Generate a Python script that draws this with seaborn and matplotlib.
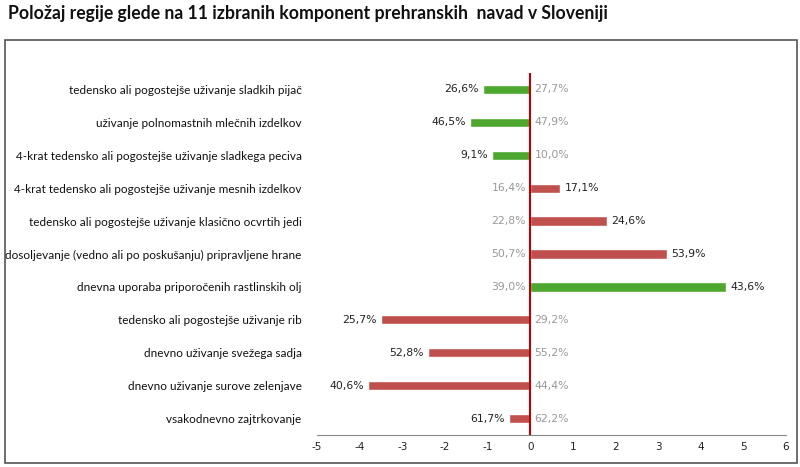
import matplotlib
matplotlib.use("Agg")
import matplotlib.pyplot as plt
import matplotlib.patches as mpatches
import seaborn as sns
import pandas as pd

categories = [
    "tedensko ali pogostejše uživanje sladkih pijač",
    "uživanje polnomastnih mlečnih izdelkov",
    "4-krat tedensko ali pogostejše uživanje sladkega peciva",
    "4-krat tedensko ali pogostejše uživanje mesnih izdelkov",
    "tedensko ali pogostejše uživanje klasično ocvrtih jedi",
    "dosoljevanje (vedno ali po poskušanju) pripravljene hrane",
    "dnevna uporaba priporočenih rastlinskih olj",
    "tedensko ali pogostejše uživanje rib",
    "dnevno uživanje svežega sadja",
    "dnevno uživanje surove zelenjave",
    "vsakodnevno zajtrkovanje",
]
region = [26.6, 46.5, 9.1, 17.1, 24.6, 53.9, 43.6, 25.7, 52.8, 40.6, 61.7]
slovenia = [27.7, 47.9, 10.0, 16.4, 22.8, 50.7, 39.0, 29.2, 55.2, 44.4, 62.2]
favourable = [True, True, True, False, False, False, True, False, False, False, False]
x_ticks = [-5, -4, -3, -2, -1, 0, 1, 2, 3, 4, 5, 6]

diff = [round(r - s, 1) for r, s in zip(region, slovenia)]
df = pd.DataFrame({"cat": categories, "diff": diff,
                   "status": ["good" if f else "bad" for f in favourable]})

sns.set_theme(style="white")
plt.rcParams["axes.unicode_minus"] = False

fig = plt.figure(figsize=(8, 4.67), dpi=100)
fig.patch.set_facecolor("white")
ax = fig.add_axes([317 / 800, 1 - 435 / 467, 469 / 800, 362 / 467])

sns.barplot(data=df, x="diff", y="cat", hue="status", orient="h",
            palette={"good": "#4EA72E", "bad": "#C0504D"},
            width=0.28, dodge=False, legend=False, ax=ax, saturation=1)

ax.set_xlim(-5, 6)
ax.set_ylim(10.5, -0.5)
ax.set_xticks(x_ticks)
ax.set_xticklabels([str(t) for t in x_ticks], fontsize=7.5, color="#222222",
                   family="DejaVu Sans")
ax.set_xlabel("")
ax.set_ylabel("")
ax.set_yticks(range(len(categories)))
ax.set_yticklabels(categories, fontsize=8.45, family="Lato", color="#111111")
ax.tick_params(axis="y", length=0, pad=11)
ax.tick_params(axis="x", direction="in", length=3, width=0.8, color="#888888", pad=5)
for s in ["top", "right", "left"]:
    ax.spines[s].set_visible(False)
ax.spines["bottom"].set_color("#888888")
ax.spines["bottom"].set_linewidth(0.8)
ax.axvline(0, color="#C00000", lw=1.5, zorder=5)

pad = 0.1
for i, (d, r, s) in enumerate(zip(diff, region, slovenia)):
    rl = f"{r:.1f}%".replace(".", ",")
    sl = f"{s:.1f}%".replace(".", ",")
    if d < 0:
        ax.text(d - pad, i, rl, ha="right", va="center", fontsize=7.8, color="#222222",
                family="DejaVu Sans")
        ax.text(pad, i, sl, ha="left", va="center", fontsize=7.8, color="#999999",
                family="DejaVu Sans")
    else:
        ax.text(d + pad, i, rl, ha="left", va="center", fontsize=7.8, color="#222222",
                family="DejaVu Sans")
        ax.text(-pad, i, sl, ha="right", va="center", fontsize=7.8, color="#999999",
                family="DejaVu Sans")

fig.patches.append(mpatches.Rectangle((5 / 800, 1 - 463 / 467), 792 / 800, 423 / 467,
                                      transform=fig.transFigure, fill=False,
                                      edgecolor="#555555", lw=1.2))
fig.text(8 / 800, 1 - 14 / 467,
         "Položaj regije glede na 11 izbranih komponent prehranskih  navad v Sloveniji",
         fontsize=12.7, fontweight="bold", family="Lato", ha="left", va="center",
         color="#111111")

fig.savefig("out.png", dpi=100, facecolor="white")
